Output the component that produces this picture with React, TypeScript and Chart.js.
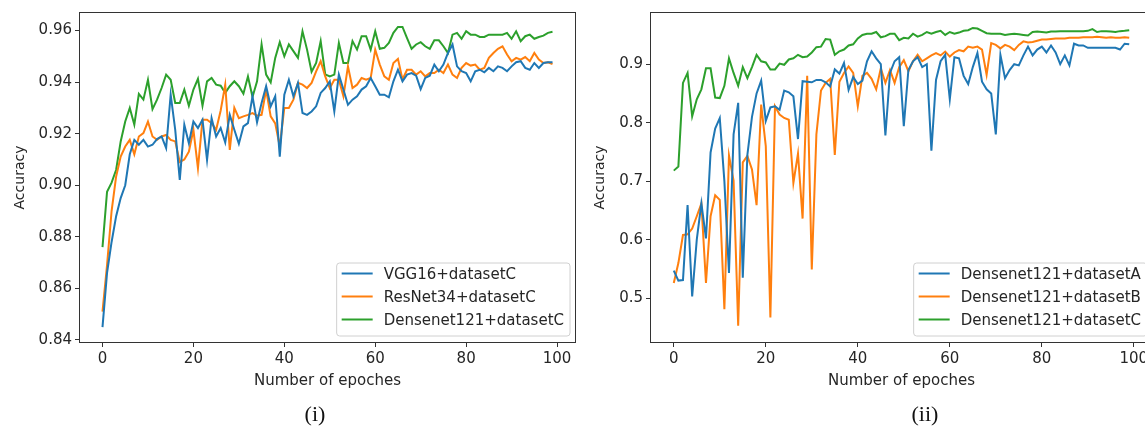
import React, { useEffect, useRef } from 'react';
import { Chart, registerables } from 'chart.js';

Chart.register(...registerables);

// ---------- data ----------
const epochs: number[] = Array.from({ length: 100 }, (_, i) => i);

const seriesLabelsI = ['VGG16+datasetC', 'ResNet34+datasetC', 'Densenet121+datasetC'];
const seriesLabelsII = ['Densenet121+datasetA', 'Densenet121+datasetB', 'Densenet121+datasetC'];

const vgg16C = [
  0.845, 0.866, 0.878, 0.888, 0.895, 0.9, 0.912, 0.9176, 0.9157, 0.9176,
  0.915, 0.9157, 0.9179, 0.9189, 0.9144, 0.9351, 0.9215, 0.9021, 0.9235, 0.9163,
  0.9247, 0.9222, 0.9254, 0.9098, 0.926, 0.9189, 0.9222, 0.9166, 0.9273, 0.9215,
  0.9161, 0.9228, 0.9241, 0.9345, 0.9244, 0.9319, 0.9384, 0.9306, 0.9345, 0.9111,
  0.9351, 0.9409, 0.9345, 0.9397, 0.928, 0.9273, 0.9286, 0.9306, 0.9358, 0.9377,
  0.9403, 0.9286, 0.9429, 0.9371, 0.9312, 0.9332, 0.9345, 0.9371, 0.9384, 0.9416,
  0.9384, 0.9351, 0.9351, 0.9341, 0.9403, 0.9448, 0.9403, 0.9429, 0.9435, 0.9425,
  0.9373, 0.9416, 0.9425, 0.9468, 0.9442, 0.9468, 0.9513, 0.9546, 0.9461, 0.9442,
  0.9435, 0.9403, 0.9442, 0.9448, 0.9438, 0.9455, 0.9442, 0.9461, 0.9455, 0.9442,
  0.9461, 0.9477, 0.9481, 0.9455, 0.9448, 0.9474, 0.9455, 0.9474, 0.9477, 0.9477,
];

const resnet34C = [
  0.851, 0.869, 0.89, 0.9034, 0.9111, 0.915, 0.9176, 0.912, 0.9189, 0.9202,
  0.9247, 0.9189, 0.9176, 0.9189, 0.9195, 0.9176, 0.917, 0.909, 0.91, 0.913,
  0.9215, 0.9066, 0.9254, 0.9254, 0.9241, 0.9215, 0.929, 0.939, 0.9137, 0.93,
  0.926, 0.9267, 0.9273, 0.928, 0.927, 0.9273, 0.937, 0.9267, 0.924, 0.915,
  0.93, 0.93, 0.9332, 0.9397, 0.939, 0.9377, 0.9397, 0.9442, 0.9481, 0.9422,
  0.9377, 0.9409, 0.9409, 0.9345, 0.9461, 0.9377, 0.939, 0.9416, 0.9409, 0.9416,
  0.9526, 0.9468, 0.9422, 0.9409, 0.9474, 0.949, 0.941, 0.9448, 0.9448, 0.9429,
  0.9442, 0.9422, 0.9435, 0.9435, 0.9448, 0.9435, 0.9468, 0.9429, 0.9416, 0.9455,
  0.9474, 0.9464, 0.9468, 0.9448, 0.9455, 0.9494, 0.9513, 0.9529, 0.9539, 0.9507,
  0.9481, 0.9494, 0.9487, 0.9497, 0.9481, 0.9513, 0.9487, 0.9474, 0.9477, 0.947,
];

const densenet121C_i = [
  0.876, 0.8975, 0.901, 0.906, 0.917, 0.9247, 0.93, 0.9235, 0.9354, 0.9332,
  0.9409, 0.9295, 0.9332, 0.9377, 0.9429, 0.9409, 0.9319, 0.9319, 0.9371, 0.9308,
  0.9371, 0.9413, 0.9308, 0.9403, 0.9416, 0.939, 0.9386, 0.9358, 0.9384, 0.9403,
  0.9384, 0.9355, 0.9422, 0.9342, 0.9403, 0.9546, 0.9429, 0.9399, 0.9494, 0.9555,
  0.95, 0.9546, 0.952, 0.9494, 0.9597, 0.9526, 0.944, 0.9474, 0.9559, 0.943,
  0.9422, 0.9429, 0.9552, 0.9474, 0.9474, 0.9559, 0.9526, 0.9578, 0.9578, 0.9526,
  0.9597, 0.9529, 0.9533, 0.9552, 0.9591, 0.9614, 0.9614, 0.9571, 0.9529, 0.9546,
  0.9555, 0.9539, 0.9529, 0.9562, 0.9562, 0.9539, 0.9513, 0.9584, 0.9591, 0.9568,
  0.9597, 0.9584, 0.9584, 0.9575, 0.9575, 0.9584, 0.9584, 0.9584, 0.9584, 0.9591,
  0.9568, 0.9597, 0.9559, 0.9578, 0.9584, 0.9568, 0.9575, 0.958, 0.9591, 0.9595,
];

const densenet121A = [
  0.547, 0.53, 0.531, 0.659, 0.503, 0.6, 0.662, 0.602, 0.749, 0.79,
  0.808, 0.7, 0.543, 0.78, 0.834, 0.535, 0.745, 0.81, 0.85, 0.872,
  0.803, 0.826, 0.828, 0.822, 0.855, 0.852, 0.845, 0.772, 0.871, 0.87,
  0.869, 0.873, 0.873, 0.869, 0.862, 0.891, 0.884, 0.902, 0.856, 0.878,
  0.866, 0.872, 0.905, 0.922, 0.91, 0.9, 0.778, 0.885, 0.905, 0.912,
  0.794, 0.89, 0.905, 0.912, 0.895, 0.9, 0.752, 0.873, 0.905, 0.916,
  0.84, 0.912, 0.91, 0.88, 0.866, 0.895, 0.919, 0.87, 0.857, 0.85,
  0.78, 0.916, 0.876, 0.89, 0.9, 0.898, 0.915, 0.93, 0.915, 0.925,
  0.93, 0.92, 0.932, 0.92, 0.9, 0.915, 0.898, 0.935, 0.932, 0.932,
  0.928, 0.928, 0.928, 0.928, 0.928, 0.928, 0.928, 0.925, 0.935, 0.934,
];

const densenet121B = [
  0.526, 0.56, 0.608, 0.609, 0.619, 0.64, 0.662, 0.526, 0.64, 0.676,
  0.668, 0.481, 0.744, 0.701, 0.453, 0.732, 0.743, 0.72, 0.659, 0.831,
  0.76, 0.467, 0.828, 0.814, 0.808, 0.805, 0.697, 0.747, 0.636, 0.88,
  0.549, 0.78, 0.855, 0.868, 0.875, 0.745, 0.87, 0.885, 0.896, 0.885,
  0.828, 0.88, 0.885, 0.875, 0.857, 0.893, 0.868, 0.89, 0.868, 0.895,
  0.907, 0.888, 0.905, 0.916, 0.905, 0.91, 0.915, 0.919, 0.915, 0.9215,
  0.913, 0.92, 0.924, 0.922, 0.93, 0.928, 0.93, 0.925, 0.882, 0.936,
  0.933, 0.927, 0.933, 0.93, 0.924, 0.933, 0.939, 0.937, 0.938, 0.94,
  0.942, 0.942, 0.943, 0.944, 0.944, 0.944, 0.945, 0.945, 0.945, 0.946,
  0.946, 0.946, 0.947, 0.946, 0.945, 0.946, 0.945, 0.945, 0.946, 0.945,
];

const densenet121C_ii = [
  0.718, 0.725, 0.868, 0.885, 0.811, 0.84, 0.857, 0.893, 0.893, 0.843,
  0.842, 0.863, 0.91, 0.885, 0.863, 0.895, 0.876, 0.895, 0.916, 0.905,
  0.903, 0.891, 0.891, 0.901, 0.899, 0.908, 0.91, 0.916, 0.912, 0.913,
  0.92, 0.929, 0.93, 0.943, 0.942, 0.916, 0.922, 0.925, 0.932, 0.934,
  0.944, 0.95, 0.952, 0.952, 0.955, 0.946, 0.948, 0.952, 0.952, 0.941,
  0.945, 0.944, 0.952, 0.947, 0.95, 0.955, 0.952, 0.955, 0.957, 0.95,
  0.955, 0.952, 0.954, 0.957, 0.958, 0.962, 0.961, 0.957, 0.953, 0.952,
  0.952, 0.952, 0.95, 0.951, 0.952, 0.951, 0.95, 0.949, 0.955, 0.956,
  0.955, 0.954, 0.956, 0.956, 0.9565, 0.9565, 0.9565, 0.9565, 0.9565, 0.9565,
  0.957, 0.96, 0.955, 0.9565, 0.9565, 0.956, 0.955, 0.9565, 0.957, 0.958,
];

const xTickValues = [0, 20, 40, 60, 80, 100];
const yTickValuesI = [0.84, 0.86, 0.88, 0.9, 0.92, 0.94, 0.96];
const yTickValuesII = [0.5, 0.6, 0.7, 0.8, 0.9];

const xTitle = 'Number of epoches';
const yTitle = 'Accuracy';

const COLORS = ['#1f77b4', '#ff7f0e', '#2ca02c'];
const TEXT = '#262626';
const FRAME = '#333333';
const FONT = '"DejaVu Sans", sans-serif';

// ---------- plugins ----------
const framePlugin = {
  id: 'mplFrame',
  afterDatasetsDraw(chart: any) {
    const { ctx, chartArea: a } = chart;
    ctx.save();
    ctx.strokeStyle = FRAME;
    ctx.lineWidth = 1;
    ctx.strokeRect(Math.round(a.left) - 0.5, Math.round(a.top) - 0.5, Math.round(a.right - a.left) + 1, Math.round(a.bottom - a.top) + 1);
    ctx.restore();
  },
};

const legendPlugin = {
  id: 'mplLegend',
  afterDraw(chart: any) {
    const { ctx, chartArea: a } = chart;
    const ds = chart.data.datasets;
    ctx.save();
    ctx.font = `15px ${FONT}`;
    const tw = Math.max(...ds.map((d: any) => ctx.measureText(d.label).width));
    const right = a.right - 5;
    const bottom = a.bottom - 6;
    const width = 5 + 31 + 11 + tw + 6;
    const height = 73;
    const left = right - width;
    const top = bottom - height;
    const r = 3;
    ctx.beginPath();
    ctx.moveTo(left + r, top);
    ctx.lineTo(right - r, top);
    ctx.quadraticCurveTo(right, top, right, top + r);
    ctx.lineTo(right, bottom - r);
    ctx.quadraticCurveTo(right, bottom, right - r, bottom);
    ctx.lineTo(left + r, bottom);
    ctx.quadraticCurveTo(left, bottom, left, bottom - r);
    ctx.lineTo(left, top + r);
    ctx.quadraticCurveTo(left, top, left + r, top);
    ctx.closePath();
    ctx.fillStyle = 'rgba(255,255,255,0.85)';
    ctx.fill();
    ctx.strokeStyle = '#d0d0d0';
    ctx.lineWidth = 1;
    ctx.stroke();
    ds.forEach((d: any, i: number) => {
      const cy = top + 12.5 + 23 * i;
      ctx.strokeStyle = d.borderColor;
      ctx.lineWidth = 2;
      ctx.beginPath();
      ctx.moveTo(left + 5, cy - 2);
      ctx.lineTo(left + 36, cy - 2);
      ctx.stroke();
      ctx.fillStyle = TEXT;
      ctx.textBaseline = 'middle';
      ctx.textAlign = 'left';
      ctx.fillText(d.label, left + 47, cy);
    });
    ctx.restore();
  },
};

// ---------- chart ----------
type PanelProps = {
  labels: string[];
  series: number[][];
  yTicks: number[];
  yMin: number;
  yMax: number;
  decimals: number;
  width: number;
  yAxisWidth: number;
  left: number;
};

function Panel({ labels, series, yTicks, yMin, yMax, decimals, width, yAxisWidth, left }: PanelProps) {
  const ref = useRef<HTMLCanvasElement | null>(null);
  useEffect(() => {
    if (!ref.current) return;
    const chart = new Chart(ref.current, {
      type: 'line',
      data: {
        datasets: series.map((s, i) => ({
          label: labels[i],
          data: s.map((v, k) => ({ x: epochs[k], y: v })),
          borderColor: COLORS[i],
          backgroundColor: COLORS[i],
          borderWidth: 2,
          pointRadius: 0,
          tension: 0,
          fill: false,
        })),
      },
      options: {
        animation: false,
        responsive: false,
        maintainAspectRatio: false,
        layout: { padding: { top: 13, right: 15, left: 0, bottom: 0 } },
        plugins: { legend: { display: false }, tooltip: { enabled: false } },
        scales: {
          x: {
            type: 'linear',
            min: -4.95,
            max: 103.95,
            afterBuildTicks: (scale: any) => {
              scale.ticks = xTickValues.map((v) => ({ value: v }));
            },
            afterFit: (scale: any) => {
              scale.height = 86;
            },
            grid: { drawOnChartArea: false, drawTicks: true, tickLength: 5, color: FRAME },
            border: { display: false },
            ticks: {
              color: TEXT,
              font: { family: FONT, size: 15 },
              padding: 3,
              maxRotation: 0,
              callback: (v: any) => String(v),
            },
            title: {
              display: true,
              text: xTitle,
              color: TEXT,
              font: { family: FONT, size: 15 },
              padding: { top: 0, bottom: 38 },
            },
          },
          y: {
            type: 'linear',
            min: yMin,
            max: yMax,
            afterBuildTicks: (scale: any) => {
              scale.ticks = yTicks.map((v) => ({ value: v }));
            },
            afterFit: (scale: any) => {
              scale.width = yAxisWidth;
            },
            grid: { drawOnChartArea: false, drawTicks: true, tickLength: 5, color: FRAME },
            border: { display: false },
            ticks: {
              color: TEXT,
              font: { family: FONT, size: 15 },
              padding: 3,
              callback: (v: any) => Number(v).toFixed(decimals),
            },
            title: {
              display: true,
              text: yTitle,
              color: TEXT,
              font: { family: FONT, size: 14 },
              padding: { top: 12, bottom: 0 },
            },
          },
        },
      },
      plugins: [framePlugin, legendPlugin],
    } as any);
    return () => chart.destroy();
  }, []);
  return (
    <canvas
      ref={ref}
      width={width}
      height={428}
      style={{ position: 'absolute', left, top: 0, width, height: 428 }}
    />
  );
}

export default function App() {
  return (
    <div
      style={{
        position: 'absolute',
        left: 0,
        top: 0,
        width: 1145,
        height: 428,
        overflow: 'hidden',
        background: '#ffffff',
      }}
    >
      <Panel
        labels={seriesLabelsI}
        series={[vgg16C, resnet34C, densenet121C_i]}
        yTicks={yTickValuesI}
        yMin={0.8392}
        yMax={0.9668}
        decimals={2}
        width={590}
        yAxisWidth={80}
        left={0}
      />
      <Panel
        labels={seriesLabelsII}
        series={[densenet121A, densenet121B, densenet121C_ii]}
        yTicks={yTickValuesII}
        yMin={0.425}
        yMax={0.9875}
        decimals={1}
        width={587}
        yAxisWidth={71}
        left={580}
      />
      <div
        style={{
          position: 'absolute',
          left: 265,
          width: 100,
          top: 402,
          textAlign: 'center',
          fontFamily: '"Liberation Serif", serif',
          fontSize: 22,
          lineHeight: '24px',
          color: '#111',
        }}
      >
        (i)
      </div>
      <div
        style={{
          position: 'absolute',
          left: 875,
          width: 100,
          top: 402,
          textAlign: 'center',
          fontFamily: '"Liberation Serif", serif',
          fontSize: 22,
          lineHeight: '24px',
          color: '#111',
        }}
      >
        (ii)
      </div>
    </div>
  );
}
